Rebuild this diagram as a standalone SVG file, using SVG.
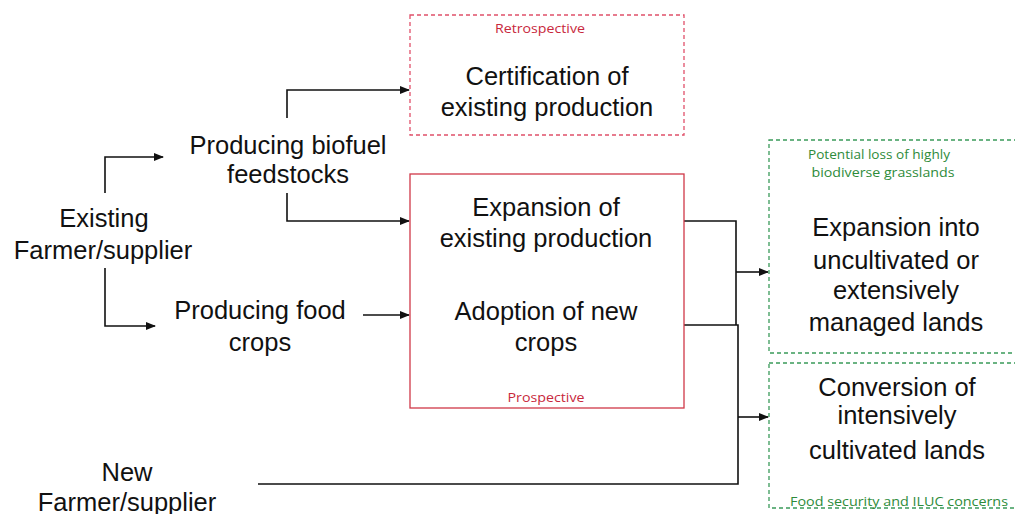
<svg xmlns="http://www.w3.org/2000/svg" width="1015" height="514" viewBox="0 0 1015 514">
<style>
.t{font-family:"Liberation Sans",Arial,sans-serif;font-size:25.5px;fill:#111;text-anchor:middle}
.s{font-family:"Open Sans","Liberation Sans",sans-serif;font-size:13px;text-anchor:middle}
.r{fill:#c8283c}
.g{fill:#2e8b3a}
.c{fill:none;stroke:#111;stroke-width:1.6}
</style>
<defs>
<marker id="ah" markerWidth="10" markerHeight="8" refX="9" refY="4" orient="auto" markerUnits="userSpaceOnUse">
<path d="M0,0 L10,4 L0,8 Z" fill="#111"/>
</marker>
</defs>
<rect width="1015" height="514" fill="#fff"/>
<g id="connectors">
<path class="c" d="M105,193 V157 H163" marker-end="url(#ah)"/>
<path class="c" d="M105,268 V326 H155" marker-end="url(#ah)"/>
<path class="c" d="M287,118 V90 H409" marker-end="url(#ah)"/>
<path class="c" d="M287,193 V221 H409" marker-end="url(#ah)"/>
<path class="c" d="M363,315 H409" marker-end="url(#ah)"/>
<path class="c" d="M684,221 H736 V325"/>
<path class="c" d="M684,325 H738 V484 H258"/>
<path class="c" d="M736,272 H768" marker-end="url(#ah)"/>
<path class="c" d="M738,417 H768" marker-end="url(#ah)"/>
</g>
<g id="existing">
<text class="t" x="104" y="227">Existing</text>
<text class="t" x="103" y="259">Farmer/supplier</text>
</g>
<g id="biofuel">
<text class="t" x="288" y="154">Producing biofuel</text>
<text class="t" x="288" y="183">feedstocks</text>
</g>
<g id="food">
<text class="t" x="260" y="319">Producing food</text>
<text class="t" x="260" y="351">crops</text>
</g>
<g id="new">
<text class="t" x="127" y="481">New</text>
<text class="t" x="127" y="511">Farmer/supplier</text>
</g>
<g id="retrospective">
<rect x="410" y="15" width="274" height="120" fill="none" stroke="#e0506a" stroke-width="1.3" stroke-dasharray="4,3"/>
<text class="s r" x="540" y="33" textLength="90" lengthAdjust="spacingAndGlyphs">Retrospective</text>
<text class="t" x="547" y="85">Certification of</text>
<text class="t" x="547" y="116">existing production</text>
</g>
<g id="prospective">
<rect x="410" y="174" width="274" height="234" fill="none" stroke="#d03848" stroke-width="1.3"/>
<text class="t" x="546" y="216">Expansion of</text>
<text class="t" x="546" y="247">existing production</text>
<text class="t" x="546" y="320">Adoption of new</text>
<text class="t" x="546" y="351">crops</text>
<text class="s r" x="546" y="402" textLength="77" lengthAdjust="spacingAndGlyphs">Prospective</text>
</g>
<g id="expansion">
<rect x="769" y="140" width="260" height="213" fill="none" stroke="#3a9a5a" stroke-width="1.3" stroke-dasharray="4,3"/>
<text class="s g" x="879" y="159" textLength="142" lengthAdjust="spacingAndGlyphs">Potential loss of highly</text>
<text class="s g" x="883" y="177" textLength="143" lengthAdjust="spacingAndGlyphs">biodiverse grasslands</text>
<text class="t" x="896" y="236">Expansion into</text>
<text class="t" x="896" y="269">uncultivated or</text>
<text class="t" x="896" y="299">extensively</text>
<text class="t" x="896" y="331">managed lands</text>
</g>
<g id="conversion">
<rect x="769" y="363" width="260" height="145" fill="none" stroke="#3a9a5a" stroke-width="1.3" stroke-dasharray="4,3"/>
<text class="t" x="897" y="396">Conversion of</text>
<text class="t" x="897" y="424">intensively</text>
<text class="t" x="897" y="459">cultivated lands</text>
<text class="s g" x="899" y="506" textLength="218" lengthAdjust="spacingAndGlyphs">Food security and ILUC concerns</text>
</g>
</svg>
